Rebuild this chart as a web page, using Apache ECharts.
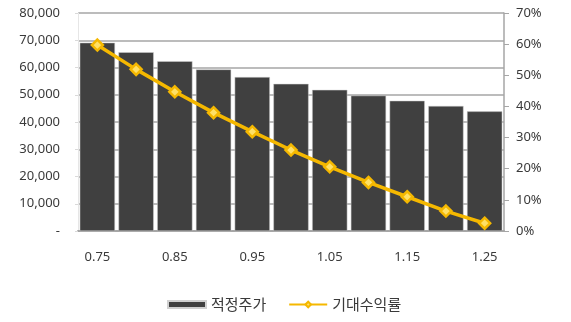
<!DOCTYPE html>
<html>
<head>
<meta charset="utf-8">
<script src="https://cdn.jsdelivr.net/npm/echarts@6/dist/echarts.min.js"></script>
<style>
  html, body { margin: 0; padding: 0; background: #fff; }
  #chart { width: 571px; height: 322px; }
</style>
</head>
<body>
<div id="chart"></div>
<script>
// Multiple (x-axis) scenarios
const categories = ['0.75', '0.80', '0.85', '0.90', '0.95', '1.00', '1.05', '1.10', '1.15', '1.20', '1.25'];
// Fair price (bars, left axis)
const fairPrice = [69100, 65600, 62300, 59300, 56500, 54000, 51800, 49700, 47800, 45900, 43900];
// Expected return in % (line, right axis)
const expectedReturn = [59.7, 51.9, 44.7, 38.0, 31.9, 26.0, 20.6, 15.6, 11.0, 6.4, 2.5];
const seriesNames = ['적정주가', '기대수익률'];

const textColor = '#3a3a3a';
const baseFont = '"Noto Sans", "Noto Sans CJK KR", sans-serif';

const chart = echarts.init(document.getElementById('chart'), null, { renderer: 'canvas' });
chart.setOption({
  animation: false,
  backgroundColor: '#ffffff',
  grid: { left: 78, right: 67, top: 13, bottom: 91, containLabel: false },
  legend: {
    bottom: 5,
    left: 162,
    itemGap: 22,
    itemWidth: 38,
    itemHeight: 7,
    textStyle: { fontFamily: '"Noto Sans CJK KR", sans-serif', fontSize: 15, color: textColor },
    data: [
      { name: seriesNames[0], icon: 'rect' },
      { name: seriesNames[1] }
    ]
  },
  xAxis: {
    type: 'category',
    data: categories,
    axisLine: { lineStyle: { color: '#a6a6a6', width: 2 } },
    axisTick: { show: false },
    axisLabel: {
      interval: 1,
      margin: 20,
      color: textColor,
      fontFamily: baseFont,
      fontSize: 13
    }
  },
  yAxis: [
    {
      type: 'value',
      min: 0,
      max: 80000,
      interval: 10000,
      axisLine: { show: true, lineStyle: { color: '#e6e6e6' } },
      axisTick: { show: true, length: 3, lineStyle: { color: '#d9d9d9' } },
      splitLine: { lineStyle: { color: '#a6a6a6', width: 1.5 } },
      axisLabel: {
        margin: 18,
        color: textColor,
        fontFamily: baseFont,
        fontSize: 13,
        formatter: v => v === 0 ? '-' : v.toLocaleString('en-US')
      }
    },
    {
      type: 'value',
      min: 0,
      max: 70,
      interval: 10,
      position: 'right',
      axisLine: { show: true, lineStyle: { color: '#a6a6a6', width: 1.5 } },
      axisTick: { show: true, inside: false, length: 5, lineStyle: { color: '#a6a6a6' } },
      splitLine: { show: false },
      axisLabel: {
        margin: 12,
        color: textColor,
        fontFamily: baseFont,
        fontSize: 13,
        formatter: v => v + '%'
      }
    }
  ],
  series: [
    {
      name: seriesNames[0],
      type: 'bar',
      yAxisIndex: 0,
      data: fairPrice,
      barCategoryGap: '9%',
      itemStyle: {
        color: '#404040',
        borderColor: '#d0d0d0',
        borderWidth: 0.5
      }
    },
    {
      name: seriesNames[1],
      type: 'line',
      yAxisIndex: 1,
      data: expectedReturn,
      symbol: 'diamond',
      symbolSize: 11,
      lineStyle: { color: '#f5b800', width: 3.5 },
      itemStyle: { color: '#ffe066', borderColor: '#f5b800', borderWidth: 2.5 },
      z: 5
    }
  ]
});
</script>
</body>
</html>
